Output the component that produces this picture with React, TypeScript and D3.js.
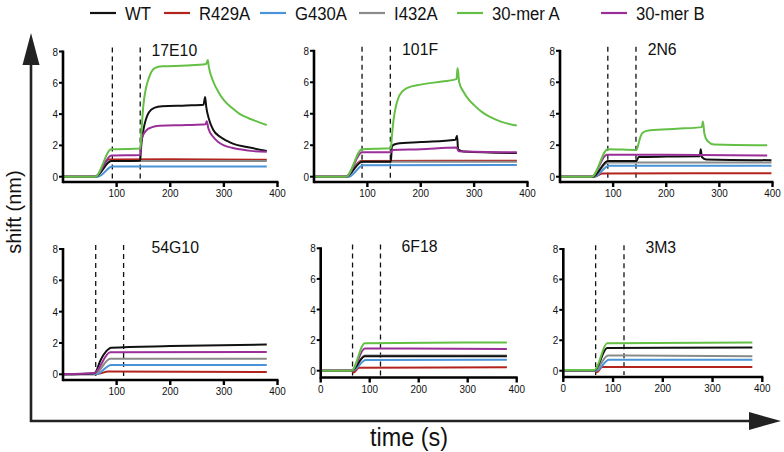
import React from "react";
import * as d3 from "d3";

// ---------- data ----------
const seriesNames = ["WT", "R429A", "G430A", "I432A", "30-mer A", "30-mer B"];
const seriesColors = ["#111111", "#b3241f", "#4a93d8", "#8a8a8a", "#63c045", "#9b2f98"];
const panelNames = ["17E10", "101F", "2N6", "54G10", "6F18", "3M3"];
const yTicks = [0, 2, 4, 6, 8];
const xTicksTop = [100, 200, 300, 400];
const xTicksWithZero = [0, 100, 200, 300, 400];
const dashTimes = [[92, 144], [90, 143], [90, 143], [61, 113], [65, 122], [65, 122]];

// 17E10
const e17_WT = [[0,0],[60,0],[90,1.0],[144,1.02],[145,1.6],[150,3.0],[155,3.7],[160,4.1],[170,4.4],[185,4.5],[230,4.55],[262,4.6],[265,5.1],[267,4.5],[272,3.7],[280,3.0],[293,2.55],[305,2.3],[318,2.1],[343,1.9],[380,1.65]];
const e17_R = [[0,0],[60,0],[85,1.1],[200,1.12],[380,1.08]];
const e17_G = [[0,0],[65,0],[92,0.65],[380,0.65]];
const e17_I = [[0,0],[60,0],[88,1.0],[380,1.0]];
const e17_A = [[0,0],[60,0],[90,1.75],[100,1.75],[144,1.8],[146,2.8],[150,4.6],[155,5.7],[160,6.3],[165,6.7],[172,6.95],[185,7.05],[230,7.1],[267,7.2],[270,7.45],[272,7.0],[280,6.1],[290,5.4],[300,4.9],[315,4.4],[330,4.0],[345,3.75],[360,3.55],[380,3.3]];
const e17_B = [[0,0],[60,0],[90,1.35],[144,1.38],[146,2.3],[150,2.7],[155,2.95],[165,3.15],[180,3.25],[230,3.3],[266,3.35],[268,3.55],[271,3.1],[280,2.55],[290,2.2],[300,2.0],[315,1.85],[330,1.75],[350,1.65],[380,1.6]];

// 101F
const f101_WT = [[0,0],[60,0],[90,0.95],[144,0.95],[146,1.95],[155,2.1],[200,2.2],[265,2.35],[268,2.6],[270,1.75],[280,1.6],[380,1.5]];
const f101_R = [[0,0],[60,0],[88,1.0],[380,1.02]];
const f101_G = [[0,0],[65,0],[92,0.72],[380,0.75]];
const f101_I = [[0,0],[60,0],[88,0.95],[380,0.95]];
const f101_A = [[0,0],[60,0],[90,1.75],[144,1.8],[146,2.6],[149,3.6],[153,4.4],[158,5.0],[165,5.4],[175,5.65],[200,5.85],[240,6.05],[267,6.2],[269,6.9],[272,6.0],[280,5.4],[290,4.9],[300,4.55],[315,4.1],[330,3.8],[350,3.5],[380,3.25]];
const f101_B = [[0,0],[60,0],[90,1.55],[144,1.55],[147,1.7],[200,1.75],[267,1.85],[271,1.62],[380,1.55]];

// 2N6
const n2_WT = [[0,0],[62,0],[90,1.0],[144,1.0],[148,1.25],[200,1.28],[263,1.3],[265,1.75],[267,1.25],[275,1.1],[398,1.05]];
const n2_R = [[0,0],[65,0],[80,0.2],[398,0.22]];
const n2_G = [[0,0],[65,0],[92,0.7],[398,0.7]];
const n2_I = [[0,0],[62,0],[90,0.9],[398,0.9]];
const n2_A = [[0,0],[60,0],[90,1.75],[144,1.7],[147,2.0],[152,2.6],[158,2.85],[170,2.95],[220,3.05],[267,3.15],[269,3.5],[272,2.7],[278,2.25],[290,2.05],[390,2.0]];
const n2_B = [[0,0],[60,0],[88,1.4],[200,1.4],[390,1.35]];

// 54G10
const g54_WT = [[0,0],[55,0.05],[60,0.1],[70,0.9],[80,1.45],[90,1.7],[200,1.8],[380,1.9]];
const g54_R = [[0,0],[62,0],[85,0.18],[380,0.15]];
const g54_G = [[0,0],[62,0],[90,0.6],[380,0.6]];
const g54_I = [[0,0],[60,0.05],[88,1.0],[380,1.0]];
const g54_B = [[0,0],[58,0.08],[88,1.4],[380,1.42]];

// 6F18
const f6_WT = [[0,0],[63,0],[90,0.95],[380,0.95]];
const f6_R = [[0,0],[63,0],[67,-0.12],[78,0.2],[380,0.22]];
const f6_G = [[0,0],[65,0],[92,0.7],[380,0.72]];
const f6_I = [[0,0],[63,0],[90,1.0],[380,1.0]];
const f6_A = [[0,0],[63,0],[90,1.8],[380,1.85]];
const f6_B = [[0,0],[63,0],[90,1.45],[380,1.42]];

// 3M3
const m3_WT = [[0,0.03],[63,0.03],[88,1.5],[380,1.52]];
const m3_R = [[0,0],[63,0],[68,-0.1],[78,0.25],[380,0.25]];
const m3_G = [[0,0],[66,0],[92,0.72],[380,0.72]];
const m3_I = [[0,0],[63,0],[90,1.0],[380,0.95]];
const m3_A = [[0,0.05],[63,0.05],[88,1.8],[380,1.85]];

// series index order: 0 WT,1 R,2 G,3 I,4 A,5 B (null = absent)
const panelSeries = [
  [e17_WT, e17_R, e17_G, e17_I, e17_A, e17_B],
  [f101_WT, f101_R, f101_G, f101_I, f101_A, f101_B],
  [n2_WT, n2_R, n2_G, n2_I, n2_A, n2_B],
  [g54_WT, g54_R, g54_G, g54_I, null, g54_B],
  [f6_WT, f6_R, f6_G, f6_I, f6_A, f6_B],
  [m3_WT, m3_R, m3_G, m3_I, m3_A, null],
];
const drawOrder = [1, 2, 3, 0, 5, 4];

// ---------- layout ----------
const layout = [
  { left: 63, right: 277.5, y0: 176.7, y8: 51.5, axisY: 182, zero: false },
  { left: 314, right: 527.5, y0: 176.7, y8: 50.8, axisY: 182, zero: false },
  { left: 560, right: 772.5, y0: 176.7, y8: 50.8, axisY: 182, zero: false },
  { left: 63, right: 277.5, y0: 374.3, y8: 249, axisY: 380, zero: false },
  { left: 320.7, right: 516.7, y0: 370.7, y8: 248.3, axisY: 377.5, zero: true },
  { left: 563.3, right: 762.3, y0: 370.7, y8: 249, axisY: 377, zero: true },
];
const legendTextX = [125, 199, 295, 394, 492, 636];
const FONT = "'Liberation Sans', Arial, Helvetica, sans-serif";

function SText({ x, y, sx = 1, anchor = "start", size, children, rotate = 0 }: any) {
  return (
    <text
      transform={`translate(${x},${y}) rotate(${rotate}) scale(${sx},1)`}
      textAnchor={anchor}
      fontSize={size}
      fontFamily={FONT}
      fill="#111"
    >
      {children}
    </text>
  );
}

function Panel({ idx }: { idx: number }) {
  const L = layout[idx];
  const x = d3.scaleLinear().domain([0, 400]).range([L.left, L.right]);
  const y = d3.scaleLinear().domain([0, 8]).range([L.y0, L.y8]);
  const line = d3
    .line<number[]>()
    .x((d) => x(d[0]))
    .y((d) => y(d[1]))
    .curve(d3.curveMonotoneX);
  const xt = L.zero ? xTicksWithZero : xTicksTop;
  return (
    <g>
      {dashTimes[idx].map((t, i) => (
        <line key={i} x1={x(t)} x2={x(t)} y1={y(8.25)} y2={L.axisY - 2} stroke="#111" strokeWidth={1.3} strokeDasharray="5,4" />
      ))}
      {drawOrder.map((si) => {
        const data = panelSeries[idx][si];
        if (!data) return null;
        return <path key={si} d={line(data as number[][]) || ""} fill="none" stroke={seriesColors[si]} strokeWidth={2} strokeLinejoin="round" />;
      })}
      {/* y axis */}
      <line x1={L.left} x2={L.left} y1={y(8) - 1} y2={L.axisY + 1.2} stroke="#000" strokeWidth={2.6} />
      {yTicks.map((t) => (
        <g key={t}>
          <line x1={L.left - 4} x2={L.left} y1={y(t)} y2={y(t)} stroke="#000" strokeWidth={2} />
          <SText x={L.left - 5} y={y(t) + 4} anchor="end" size={11} sx={0.9}>{t}</SText>
        </g>
      ))}
      {/* x axis */}
      <line x1={L.left} x2={L.right + 1} y1={L.axisY} y2={L.axisY} stroke="#000" strokeWidth={2.6} />
      {xt.map((t) => (
        <g key={t}>
          <line x1={x(t)} x2={x(t)} y1={L.axisY} y2={L.axisY + 5} stroke="#000" strokeWidth={2.4} />
          <SText x={x(t)} y={L.axisY + 15} anchor="middle" size={11} sx={0.9}>{t}</SText>
        </g>
      ))}
      <SText x={x(165)} y={y(8) + 4} size={17} sx={0.93}>{panelNames[idx]}</SText>
    </g>
  );
}

export default function App() {
  return (
    <svg width={784} height={452} style={{ position: "absolute", left: 0, top: 0, display: "block", background: "#fff" }}>
      <rect width={784} height={452} fill="#fff" />
      {/* legend */}
      {seriesNames.map((n, i) => (
        <g key={n}>
          <line x1={legendTextX[i] - 35} x2={legendTextX[i] - 9} y1={13} y2={13} stroke={seriesColors[i]} strokeWidth={2.2} />
          <SText x={legendTextX[i]} y={20} size={19} sx={0.88}>{n}</SText>
        </g>
      ))}
      {/* big axes */}
      <line x1={31} x2={31} y1={422} y2={62} stroke="#222" strokeWidth={2.6} />
      <polygon points="22.5,65 39.5,65 31,33" fill="#222" />
      <line x1={30} x2={752} y1={421} y2={421} stroke="#222" strokeWidth={2.6} />
      <polygon points="749,412 749,430 781,421" fill="#222" />
      <SText x={21} y={212} anchor="middle" size={20} rotate={-90}>shift (nm)</SText>
      <SText x={409} y={446} anchor="middle" size={26} sx={0.9}>time (s)</SText>
      {panelNames.map((_, i) => (
        <Panel key={i} idx={i} />
      ))}
    </svg>
  );
}
